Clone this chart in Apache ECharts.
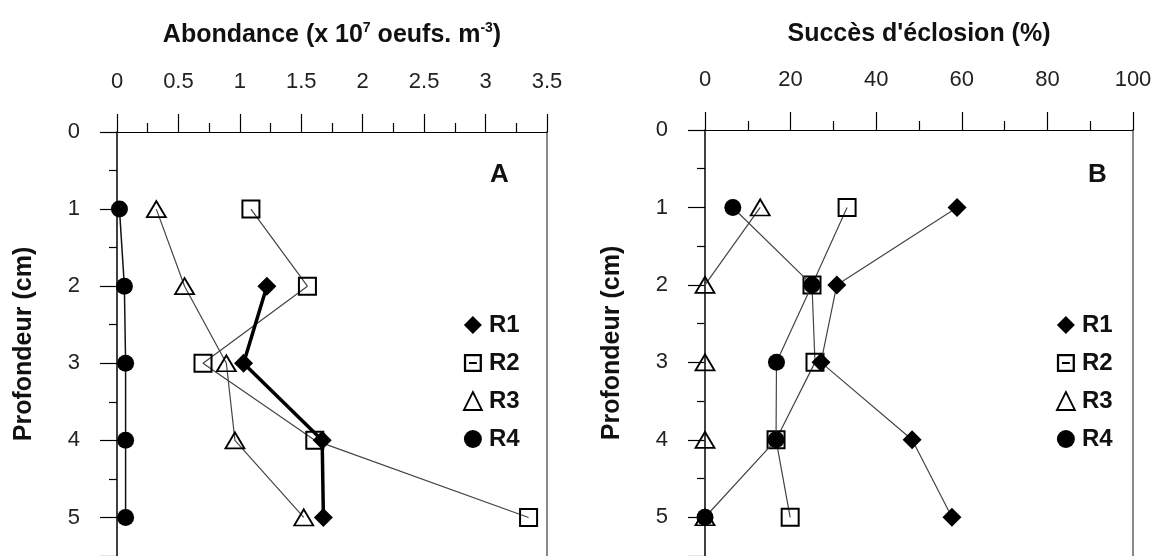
<!DOCTYPE html>
<html>
<head>
<meta charset="utf-8">
<script src="https://cdn.jsdelivr.net/npm/echarts@6/dist/echarts.min.js"></script>
<style>html,body{margin:0;padding:0;background:#fff}#c{width:1157px;height:556px}</style>
</head>
<body>
<div id="c"></div>
<script>
// Depths (cm)
var depths = [1, 2, 3, 4, 5];
var seriesNames = ['R1', 'R2', 'R3', 'R4'];
// Panel A: Abondance (x 10^7 oeufs m^-3)
var abondR1 = [null, 1.22, 1.03, 1.67, 1.68];
var abondR2 = [1.09, 1.55, 0.70, 1.61, 3.35];
var abondR3 = [0.32, 0.55, 0.89, 0.96, 1.52];
var abondR4 = [0.02, 0.06, 0.07, 0.07, 0.07];
// Panel B: Succès d'éclosion (%)
var succR1 = [58.9, 30.8, 27.1, 48.4, 57.7];
var succR2 = [33.2, 25.0, 25.7, 16.6, 19.9];
var succR3 = [12.9, 0, 0, 0, 0];
var succR4 = [6.5, 25.0, 16.7, 16.6, 0];
// Tick settings
var abondTicks = {min: 0, max: 3.5, interval: 0.5};
var succTicks = {min: 0, max: 100, interval: 20};
var depthTicks = {min: 0, max: 5.5, interval: 1};

function pairs(vals) {
  var out = [];
  for (var i = 0; i < vals.length; i++) {
    if (vals[i] !== null) out.push([vals[i], depths[i]]);
  }
  return out;
}

var FONT = '"Liberation Sans", Arial, sans-serif';
var symDefs = {
  R1: {symbol: 'diamond', size: [19, 19], item: {color: '#000', borderColor: '#000', borderWidth: 0}},
  R2: {symbol: 'rect', size: 17, item: {color: 'rgba(0,0,0,0)', borderColor: '#000', borderWidth: 2}},
  R3: {symbol: 'triangle', size: [19, 16], item: {color: 'rgba(0,0,0,0)', borderColor: '#000', borderWidth: 1.8}},
  R4: {symbol: 'circle', size: 17, item: {color: '#000', borderColor: '#000', borderWidth: 0}}
};

function mkSeries(name, vals, gi, lineW, lineC, z) {
  var d = symDefs[name];
  return {
    name: name, type: 'line', xAxisIndex: gi, yAxisIndex: gi * 2,
    data: pairs(vals), symbol: d.symbol, symbolSize: d.size,
    itemStyle: d.item, lineStyle: {color: lineC, width: lineW},
    z: z, animation: false, emphasis: {disabled: true}
  };
}

function xAx(gi, t, nameRich) {
  return {
    type: 'value', gridIndex: gi, position: 'top', min: t.min, max: t.max, interval: t.interval,
    axisLine: {show: true, onZero: false, lineStyle: {color: '#000', width: 1.2}},
    axisTick: {show: true, inside: false, length: 18, lineStyle: {color: '#000', width: 1.2}},
    minorTick: {show: true, splitNumber: 2, length: 9, lineStyle: {color: '#000', width: 1.2}},
    splitLine: {show: false}, minorSplitLine: {show: false},
    axisLabel: {fontFamily: FONT, fontSize: 22, color: '#222', margin: 39},
    name: nameRich.text, nameLocation: 'middle', nameGap: 83,
    nameTextStyle: nameRich.style
  };
}
function yAx(gi) {
  return {
    type: 'value', gridIndex: gi, inverse: true, min: depthTicks.min, max: depthTicks.max, interval: depthTicks.interval,
    axisLine: {show: true, onZero: false, lineStyle: {color: '#000', width: 1.5}},
    axisTick: {show: true, length: 17, lineStyle: {color: '#000', width: 1.2}},
    minorTick: {show: true, splitNumber: 2, length: 8, lineStyle: {color: '#000', width: 1.2}},
    splitLine: {show: false}, minorSplitLine: {show: false},
    axisLabel: {fontFamily: FONT, fontSize: 22, color: '#222', margin: 37, showMaxLabel: false,
      formatter: function (v) { return Number.isInteger(v) ? String(v) : ''; }},
    name: 'Profondeur (cm)', nameLocation: 'middle', nameGap: 80,
    nameTextStyle: {fontFamily: FONT, fontSize: 25, fontWeight: 'bold', color: '#111'}
  };
}
function yBorder(gi) {
  return {
    type: 'value', gridIndex: gi, position: 'right', inverse: true, min: depthTicks.min, max: depthTicks.max,
    axisLine: {show: true, onZero: false, lineStyle: {color: '#888', width: 2}},
    axisTick: {show: false}, axisLabel: {show: false}, splitLine: {show: false}
  };
}

var titleStyleBase = {fontFamily: FONT, fontSize: 25, fontWeight: 'bold', color: '#111'};
var titleA = {
  text: '{t|Abondance (x 10}{s|7}{t| oeufs. m}{s|-3}{t|)}',
  style: {rich: {
    t: {fontFamily: FONT, fontSize: 25, fontWeight: 'bold', color: '#111'},
    s: {fontFamily: FONT, fontSize: 14, fontWeight: 'bold', color: '#111', verticalAlign: 'top', padding: [0, 0, 14, 0]}
  }}
};
var titleB = {text: "Succès d'éclosion (%)", style: titleStyleBase};

var r2Icon = 'path://M0,0H16V16H0Z M2,2V14H14V2Z M4.5,7.2H11.5V8.8H4.5Z';
var legendIcons = {R1: 'diamond', R2: r2Icon, R3: 'triangle', R4: 'circle'};
function legendFor(gi, left) {
  return {
    show: true, orient: 'vertical', left: left, top: 313, padding: 0, itemGap: 14,
    itemWidth: 18, itemHeight: 18, selectedMode: false,
    textStyle: {fontFamily: FONT, fontSize: 24, fontWeight: 'bold', color: '#111', padding: [0, 0, 0, 2]},
    data: seriesNames.map(function (n) {
      var item = {name: gi ? n + '\u200b' : n, icon: legendIcons[n]};
      if (n === 'R1' || n === 'R4') { item.itemStyle = {color: '#000', borderWidth: 0}; }
      if (n === 'R2') { item.itemStyle = {color: '#000', borderWidth: 0}; }
      if (n === 'R3') { item.itemWidth = 16; item.itemStyle = {color: 'rgba(0,0,0,0)', borderColor: '#000', borderWidth: 1.8}; }
      return item;
    })
  };
}

var series = [
  mkSeries('R2', abondR2, 0, 1.2, '#444', 2),
  mkSeries('R3', abondR3, 0, 1.2, '#444', 3),
  mkSeries('R4', abondR4, 0, 1.5, '#111', 4),
  mkSeries('R1', abondR1, 0, 3.5, '#000', 5),
  mkSeries('R2', succR2, 1, 1.2, '#444', 2),
  mkSeries('R3', succR3, 1, 1.2, '#444', 3),
  mkSeries('R4', succR4, 1, 1.2, '#444', 4),
  mkSeries('R1', succR1, 1, 1.2, '#444', 5)
];
// distinct names for panel B legend
for (var i = 4; i < 8; i++) series[i].name = series[i].name + '\u200b';

var chart = echarts.init(document.getElementById('c'), null, {renderer: 'canvas'});
chart.setOption({
  backgroundColor: '#fff',
  animation: false,
  grid: [
    {left: 117, top: 132, width: 430, bottom: -3, containLabel: false},
    {left: 705, top: 130, width: 428, bottom: -3, containLabel: false}
  ],
  xAxis: [xAx(0, abondTicks, titleA), xAx(1, succTicks, titleB)],
  yAxis: [yAx(0), yBorder(0), yAx(1), yBorder(1)],
  legend: [legendFor(0, 463), legendFor(1, 1056)],
  graphic: [
    {type: 'text', left: 490, top: 162, style: {text: 'A', fontFamily: FONT, fontSize: 26, fontWeight: 'bold', fill: '#111'}},
    {type: 'text', left: 1088, top: 162, style: {text: 'B', fontFamily: FONT, fontSize: 26, fontWeight: 'bold', fill: '#111'}}
  ],
  series: series
});
</script>
</body>
</html>
